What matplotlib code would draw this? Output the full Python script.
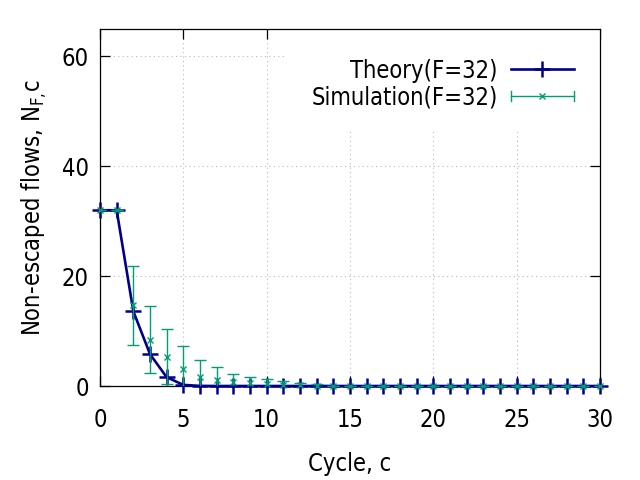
import matplotlib
matplotlib.use("Agg")
import matplotlib.pyplot as plt
from matplotlib.lines import Line2D
from matplotlib.patches import Rectangle
from matplotlib.legend_handler import HandlerBase
from matplotlib.container import ErrorbarContainer

plt.rcParams['font.family'] = ['DejaVu Sans']
plt.rcParams['font.stretch'] = 'condensed'
plt.rcParams['mathtext.default'] = 'regular'

# ---- data ----
cycles = list(range(0, 31))
theory = [32, 32, 13.6, 5.8, 1.6, 0.2, 0.02] + [0] * 24
sim_mean = [32, 32, 14.7, 8.4, 5.3, 3.1, 1.7, 1.1, 0.7, 0.5, 0.3, 0.2, 0.1, 0.05] + [0] * 17
sim_err = [0, 0, 7.2, 6.1, 5.0, 4.1, 3.1, 2.3, 1.5, 1.1, 0.9, 0.65, 0.4, 0.3] + [0] * 17
xticks = [0, 5, 10, 15, 20, 25, 30]
yticks = [0, 20, 40, 60]
theory_label = "Theory(F=32)"
sim_label = "Simulation(F=32)"

C_TH = '#00008b'
C_SIM = '#009e73'
FS = 17


class HandlerHErr(HandlerBase):
    def create_artists(self, legend, orig_handle, xdescent, ydescent,
                       width, height, fontsize, trans):
        y = height / 2 - ydescent
        x0 = -xdescent
        x1 = -xdescent + width
        cap = 3.5
        arts = [
            Line2D([x0, x1], [y, y], color=C_SIM, lw=1.0),
            Line2D([x0, x0], [y - cap, y + cap], color=C_SIM, lw=1.0),
            Line2D([x1, x1], [y - cap, y + cap], color=C_SIM, lw=1.0),
            Line2D([(x0 + x1) / 2], [y], color=C_SIM, marker='x',
                   markersize=4.5, mew=1.0, linestyle='none'),
        ]
        for a in arts:
            a.set_transform(trans)
        return arts


fig = plt.figure(figsize=(6.4, 4.8), dpi=100)
ax = fig.add_axes([100 / 640, 94 / 480, 500 / 640, 357 / 480])

ax.set_xlim(0, 30)
ax.set_ylim(0, 65)
ax.set_xticks(xticks)
ax.set_yticks(yticks)
ax.tick_params(direction='in', length=7, width=0.9, top=True, right=True,
               labelsize=FS, colors='black')
ax.tick_params(axis='x', pad=16)
ax.tick_params(axis='y', pad=8)
ax.grid(True, linestyle=(0, (1, 3)), color='#b8b8b8', lw=0.8)
for s in ax.spines.values():
    s.set_linewidth(0.9)

# opaque key area (covers grid like gnuplot's opaque key)
ax.add_patch(Rectangle((0.374, 0.717), 0.626, 0.283, transform=ax.transAxes,
                       facecolor='white', edgecolor='none', zorder=1.8))

th_line, = ax.plot(cycles, theory, color=C_TH, lw=1.9, marker='+',
                   markersize=11, mew=1.8, clip_on=False, zorder=3,
                   label=theory_label)
eb = ax.errorbar(cycles, sim_mean, yerr=sim_err, color=C_SIM, fmt='x',
                 markersize=5, mew=1.0, elinewidth=1.0, capsize=4.5,
                 capthick=1.0, zorder=4, label=sim_label)
eb[0].set_clip_on(False)

ax.set_xlabel("Cycle, c", fontsize=FS, labelpad=14)
ax.set_ylabel("Non-escaped flows, N$_{F{,}}$c", fontsize=FS, labelpad=9)

leg = ax.legend([th_line, eb], [theory_label, sim_label],
                handler_map={ErrorbarContainer: HandlerHErr()},
                loc='upper right', bbox_to_anchor=(0.958, 0.93),
                borderaxespad=0, borderpad=0.2, frameon=False,
                markerfirst=False, numpoints=1, handlelength=2.7,
                handletextpad=0.55, labelspacing=0.12, fontsize=FS)
leg.set_zorder(5)

fig.savefig("out.png", dpi=100)
